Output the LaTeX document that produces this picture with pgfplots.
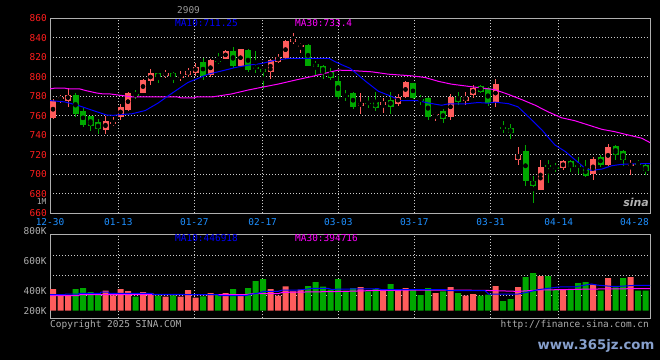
\documentclass[border=0pt]{standalone}
\usepackage{pgfplots}
\pgfplotsset{compat=1.18}
\usepackage{pgfplotstable}
\usepackage{fontspec}
\setmonofont{DejaVu Sans Mono}
\newfontfamily\wmfont{DejaVu Sans}
\definecolor{cup}{RGB}{255,92,92}
\definecolor{cdn}{RGB}{0,168,0}
\definecolor{gridc}{RGB}{205,205,205}
\definecolor{framec}{RGB}{175,175,175}
\definecolor{xlab}{RGB}{30,144,255}
\definecolor{ylab}{RGB}{255,30,30}
\definecolor{maten}{RGB}{0,0,255}
\definecolor{mathirty}{RGB}{255,0,255}
\definecolor{vlab}{RGB}{175,175,175}
\definecolor{wmc}{RGB}{135,160,205}
\newcommand\lf{\fontsize{9.5}{11}\selectfont\ttfamily}

% up (red) candles: index, open, high, low, close, volume (K)
\pgfplotstableread{
i o h l c v
0 758 777 757 775 381
1 777 781.7 773.6 779 264
2 775.6 788 769.5 781.7 264
7 745.1 759.3 741.7 754.2 352
8 751.2 758.6 749.2 753.6 270
9 758.6 772.2 756 768.8 381
10 766.1 784 765 783 346
12 783 797.6 783 796.6 329
13 796 807.8 791.9 803.4 305
15 801 806.8 798.6 804.4 246
17 799.5 806 795.3 800.5 246
18 802 809.5 800 806 364
19 804.4 814.6 800.8 810.2 229
21 802 818 800 817 311
23 818.6 827 818 826.4 311
25 811.2 829 810 828.1 270
29 805.1 818 797.6 817 381
30 815.6 823 814 820.3 264
31 819 837.5 818 837 428
32 836 845 834 838.8 340
33 831.5 835 824.7 832.5 370
41 769.8 783 761.4 772.9 417
44 771.2 778 762.7 774.6 352
46 772.2 782.4 769.8 779.7 381
47 779.7 795.9 778.3 794.2 399
51 761 763.9 754.2 762 311
53 758.6 782.4 756 779.7 417
55 774.9 784.7 771.5 779.7 264
56 781.4 791.9 778.3 788.5 293
59 774 797.5 769 792.5 434
62 714.9 727.8 709.5 720 417
65 684.4 715 684 707.5 610
68 706.8 715 704 713.3 370
72 700 717.6 694.2 715.6 458
74 709.8 731.2 708.1 728.5 575
77 709.2 714.6 699.7 710 593
}\upTab

% down (green) candles
\pgfplotstableread{
i o h l c v
3 781.7 783 758.6 762 381
4 765.4 768 748 750.2 399
5 759.3 760 744.4 749.2 329
6 753.2 756.3 741.7 746.4 305
11 782 786.8 777 781 246
14 803.4 803.6 793.9 799.3 264
16 804.4 804.6 793.2 799.3 270
20 815 819 796.6 801 252
22 816.6 824 813.6 815.6 293
24 826.4 830.5 809.5 811.2 381
26 827.5 828 805 807.1 399
27 809.8 826.4 803.4 808.8 522
28 807.8 808 788 805.4 558
34 832.5 833.5 811 811.2 434
35 813.6 816.6 802 810.5 505
36 811 812.5 797.3 804.4 423
37 805.4 808.8 797 798.3 370
38 796 801 777.3 779 558
39 781 786.4 774.9 780 352
40 783 784.7 766.8 769.5 399
42 773.5 779 767.8 772.5 340
43 773.9 784 764.7 767.8 381
45 776.3 784.7 761.4 768.8 470
48 793.2 794 777 778 381
49 777 781.7 771.5 776 276
50 778 779 756 758.6 399
52 764.7 767.1 752.5 756.3 340
54 779.7 784 771.5 774.6 311
57 790.8 791.9 783 784 264
58 788.5 789.8 769.8 772.9 282
60 748.2 754.6 742 747.2 170
61 747.5 751.5 736.3 742.7 205
63 724.1 730.2 687.8 692.9 593
64 693.6 698.6 670.8 688.5 663
66 709 714.9 691 708 610
67 707.4 711.5 702 706.4 370
69 713.3 715 702 707.5 370
70 709.4 717.6 700.3 708.4 487
71 706.1 715 697.3 698.6 505
73 717.6 720 707.5 709.8 352
75 729.2 730.2 715 720 411
76 724.1 725.1 708.8 714.9 575
78 711.2 714.6 708.5 710.2 352
79 709.8 710.8 699 703.1 352
}\dnTab

% price moving averages
\pgfplotstableread{
x y
0.0 775.6
2.0 774.2
3.8 770.5
5.1 767.1
6.4 763.7
7.6 760.7
8.5 760.5
9.6 761.4
10.9 762.0
12.7 765.4
14.4 773.0
15.8 780.7
17.1 787.5
18.4 794.2
19.8 798.6
21.1 802.7
22.9 806.0
24.7 809.5
26.4 811.9
28.2 813.6
30.0 817.0
31.8 818.8
37.2 819.0
38.0 815.5
39.3 811.0
40.0 808.8
40.7 804.4
42.0 795.9
43.8 785.1
45.6 779.7
46.7 775.6
49.0 775.6
50.4 773.2
52.2 770.8
53.1 772.2
55.3 772.2
57.1 773.6
58.4 772.9
59.3 774.0
61.1 772.5
62.4 769.2
63.8 759.0
65.6 745.4
67.3 730.2
68.7 723.4
70.0 714.9
71.3 706.4
72.2 704.0
73.6 705.4
74.9 708.8
76.2 710.2
78.0 710.8
80.0 711.0
}\maTen

\pgfplotstableread{
x y
0.0 787.5
0.7 788.5
1.9 788.5
2.5 787.5
4.0 787.5
4.8 785.8
6.2 783.4
7.1 782.4
8.0 782.4
9.7 780.7
11.0 779.3
17.0 779.3
17.5 778.3
19.2 778.3
19.5 779.3
21.6 779.3
24.2 782.4
26.4 786.4
28.2 789.2
30.4 792.5
32.7 796.6
34.9 800.3
37.1 804.4
38.4 806.8
40.0 806.5
42.9 805.1
45.1 802.7
48.2 801.0
50.0 799.3
51.8 795.3
53.5 792.5
55.8 790.2
58.0 788.1
59.3 786.8
61.1 782.0
62.9 776.6
64.7 770.8
66.4 764.1
68.2 758.0
70.0 754.9
71.8 750.5
73.6 746.1
75.3 743.7
77.1 740.3
78.9 737.0
80.0 732.5
}\maThirty

% volume moving averages (K)
\pgfplotstableread{
x y
0 282
2.0 282
2.1 293
3.8 293
3.9 305
6.7 305
6.8 329
7.8 329
7.9 305
13.6 305
13.7 288
18.0 288
18.1 282
22.4 282
22.5 264
26.0 264
27.0 293
27.8 310
28.5 340
30.4 340
31.0 364
33.1 364
34.0 376
34.9 393
37.1 393
37.5 376
40.0 382
43.8 387
44.2 370
52.7 370
53.0 352
58.0 352
58.5 293
62.4 293
63.5 320
65.1 370
66.5 395
67.8 417
70.0 420
72.2 470
73.0 450
74.9 428
76.0 430
78.0 446
80.0 446
}\vmaTen

\pgfplotstableread{
x y
0 264
3.8 264
4.0 282
26.0 282
27.0 299
30.4 299
31.0 323
39.3 340
43.8 358
52.7 364
58.0 358
62.4 340
65.1 364
67.8 370
72.2 381
80.0 390
}\vmaThirty

\pgfplotsset{
  chartbase/.style={
    scale only axis, anchor=south west,
    width=600bp, xmin=0, xmax=80,
    axis line style={draw=framec, line width=1bp},
    major tick length=0pt,
    grid style={draw=gridc, line width=0.9bp, dash pattern=on 1bp off 2bp},
    clip=true,
  },
  wick/.style={only marks, mark=none, forget plot,
    error bars/.cd, y dir=both, y explicit, error mark=none,
    error bar style={line width=1bp, draw=#1}},
  body/.style={only marks, mark=none, forget plot,
    error bars/.cd, y dir=both, y explicit, error mark=none,
    error bar style={line width=6bp, draw=#1}},
}

\begin{document}
\begin{tikzpicture}
\fill[black] (0bp,0bp) rectangle (660bp,360bp);

% ---------------- price panel ----------------
\begin{axis}[chartbase,
  at={(50bp,146.7bp)}, height=195bp,
  ymin=660, ymax=860,
  ytick={660,680,700,720,740,760,780,800,820,840,860},
  yticklabels={660,680,700,720,740,760,780,800,820,840,860},
  yticklabel style={font=\lf, text=ylab, anchor=east, inner sep=0pt, xshift=-3bp},
  ymajorgrids,
  xtick={0,9.11,19.24,28.36,38.44,48.57,58.76,67.83,77.93},
  xticklabels={12-30,01-13,01-27,02-17,03-03,03-17,03-31,04-14,04-28},
  xticklabel style={font=\lf, text=xlab, anchor=center, inner sep=0pt, yshift=-8.3bp},
  extra x ticks={9.11,19.24,28.36,38.44,48.57,58.76,67.83},
  extra x tick labels={},
  extra x tick style={grid=major},
]
\addplot[wick=cup] table[x expr=\thisrow{i}+0.4, y expr=(\thisrow{h}+\thisrow{l})/2, y error expr=(\thisrow{h}-\thisrow{l})/2] {\upTab};
\addplot[wick=cdn] table[x expr=\thisrow{i}+0.4, y expr=(\thisrow{h}+\thisrow{l})/2, y error expr=(\thisrow{h}-\thisrow{l})/2] {\dnTab};
\addplot[body=cup] table[x expr=\thisrow{i}+0.4, y expr=(\thisrow{o}+\thisrow{c})/2, y error expr={max(abs(\thisrow{c}-\thisrow{o})/2,0.55)}] {\upTab};
\addplot[body=cdn] table[x expr=\thisrow{i}+0.4, y expr=(\thisrow{o}+\thisrow{c})/2, y error expr={max(abs(\thisrow{c}-\thisrow{o})/2,0.55)}] {\dnTab};
\addplot[mathirty, line width=1bp, mark=none] table[x=x, y=y] {\maThirty};
\addplot[maten, line width=1bp, mark=none] table[x=x, y=y] {\maTen};
\end{axis}

% ---------------- volume panel ----------------
\begin{axis}[chartbase,
  at={(50bp,41.7bp)}, height=84bp,
  ymin=-133.8, ymax=1345,
  ytick={271,623,975}, yticklabels={},
  ymajorgrids,
  xtick={9.11,19.24,28.36,38.44,48.57,58.76,67.83}, xticklabels={},
  xmajorgrids,
]
\addplot[ybar, bar width=6bp, bar shift=0pt, fill=cup, draw=none, forget plot] table[x expr=\thisrow{i}+0.4, y=v] {\upTab};
\addplot[ybar, bar width=6bp, bar shift=0pt, fill=cdn, draw=none, forget plot] table[x expr=\thisrow{i}+0.4, y=v] {\dnTab};
\addplot[mathirty, line width=1bp, mark=none] table[x=x, y=y] {\vmaThirty};
\addplot[maten, line width=1bp, mark=none] table[x=x, y=y] {\vmaTen};
\end{axis}

% ---------------- texts ----------------
\node[font=\lf, text=gray!80!white, inner sep=0pt] at (188.5bp,350bp) {2909};
\node[font=\lf, text=maten, anchor=base west, inner sep=0pt] at (175bp,333.3bp) {MA10:711.25};
\node[font=\lf, text=mathirty, anchor=base west, inner sep=0pt] at (295bp,333.3bp) {MA30:733.4};
\node[font=\lf, text=maten, anchor=base west, inner sep=0pt] at (175bp,118.7bp) {MA10:446918};
\node[font=\lf, text=mathirty, anchor=base west, inner sep=0pt] at (295bp,118.7bp) {MA30:394716};
\node[font=\fontsize{8}{8}\selectfont\ttfamily, text=vlab, anchor=base east, inner sep=0pt, text height=5.8bp, text depth=0pt] at (46.7bp,155.5bp) {1M};
\node[font=\lf, text=vlab, anchor=east, inner sep=0pt] at (46.7bp,129.3bp) {800K};
\node[font=\lf, text=vlab, anchor=east, inner sep=0pt] at (46.7bp,99.3bp) {600K};
\node[font=\lf, text=vlab, anchor=east, inner sep=0pt] at (46.7bp,69.3bp) {400K};
\node[font=\lf, text=vlab, anchor=east, inner sep=0pt] at (46.7bp,49.3bp) {200K};
\node[font=\lf, text=vlab, anchor=base west, inner sep=0pt] at (50bp,33bp) {Copyright 2025 SINA.COM};
\node[font=\lf, text=vlab, anchor=base east, inner sep=0pt] at (649bp,33bp) {http://finance.sina.com.cn};
\node[font=\wmfont\bfseries\fontsize{13.3}{15}\selectfont, text=wmc, inner sep=0pt] at (596bp,14.5bp) {www.365jz.com};
\node[font=\wmfont\bfseries\itshape\fontsize{11}{12}\selectfont, text=gray!60!white, inner sep=0pt] at (636bp,158bp) {sina};
\end{tikzpicture}
\end{document}
